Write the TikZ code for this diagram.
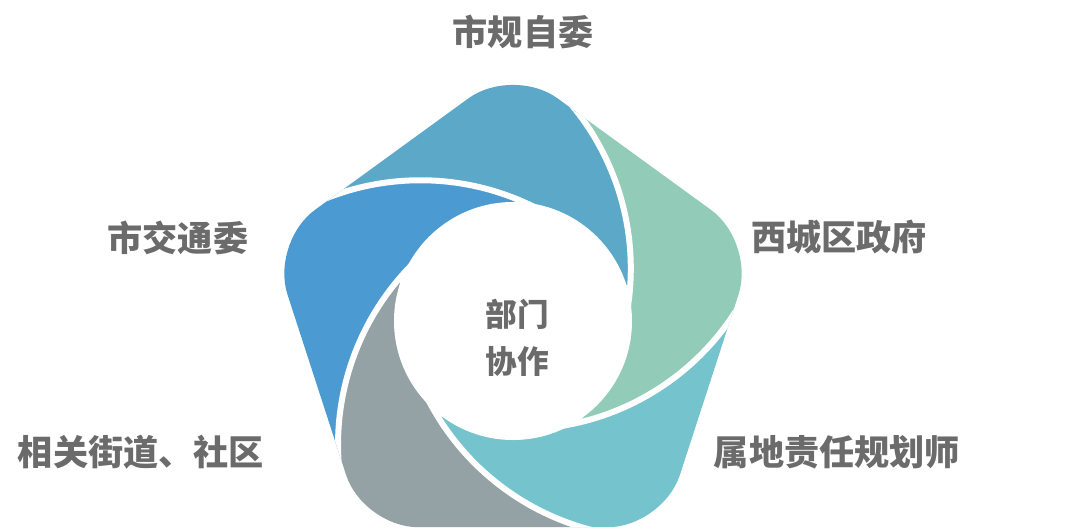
\documentclass[tikz,border=0pt]{standalone}
\usepackage{fontspec}
\newfontfamily\cjk{Noto Sans CJK SC}
\definecolor{bladetop}{HTML}{5BA8C8}
\definecolor{bladeleft}{HTML}{4B9BD2}
\definecolor{bladegray}{HTML}{94A2A5}
\definecolor{bladeteal}{HTML}{74C3CD}
\definecolor{bladegreen}{HTML}{93CBB9}
\definecolor{textgray}{HTML}{6B6B6B}
\tikzset{orgname/.style={font=\cjk\bfseries\fontsize{20}{24}\selectfont, text=textgray, inner sep=0pt}}

\begin{document}
\begin{tikzpicture}[x=0.2mm, y=0.2mm]
    \useasboundingbox (-513, -209) rectangle (567, 321);
    \begin{scope}
        \clip[rounded corners=11mm] (0, -206) -- (306:255) -- (18:255) -- (90:255) -- (162:255) -- (234:255) -- cycle;
        \foreach \k/\c in {0/bladetop, 1/bladeleft, 2/bladegray, 3/bladeteal, 4/bladegreen}{%
            \pgfmathsetmacro\a{231+72*\k}
            \begin{scope}[even odd rule]
                \clip (-600, -300) rectangle (600, 400) (\a:147) circle (255);
                \fill[\c] (\a-72:147) circle (255);
            \end{scope}
        }
        \foreach \k in {0, 1, 2, 3, 4}{%
            \pgfmathsetmacro\a{231+72*\k}
            \draw[white, line width=1.2mm] (\a:147) ++(\a+178:255) arc[start angle=\a+178, end angle=\a+262, radius=255];
        }
    \end{scope}
    \fill[white] (0, 0) circle (119);

    \node[orgname] (sgw) at (10, 289) {市规自委};
    \node[orgname] (sjw) at (-335, 83) {市交通委};
    \node[orgname] (xcq) at (326, 84) {西城区政府};
    \node[orgname] (jdsq) at (-372, -131) {相关街道、社区};
    \node[orgname] (ghs) at (324, -131) {属地责任规划师};
    \node[orgname, font=\cjk\bfseries\fontsize{18}{26.7}\selectfont, align=center] (hub) at (4, -17) {部门\\协作};
\end{tikzpicture}
\end{document}
